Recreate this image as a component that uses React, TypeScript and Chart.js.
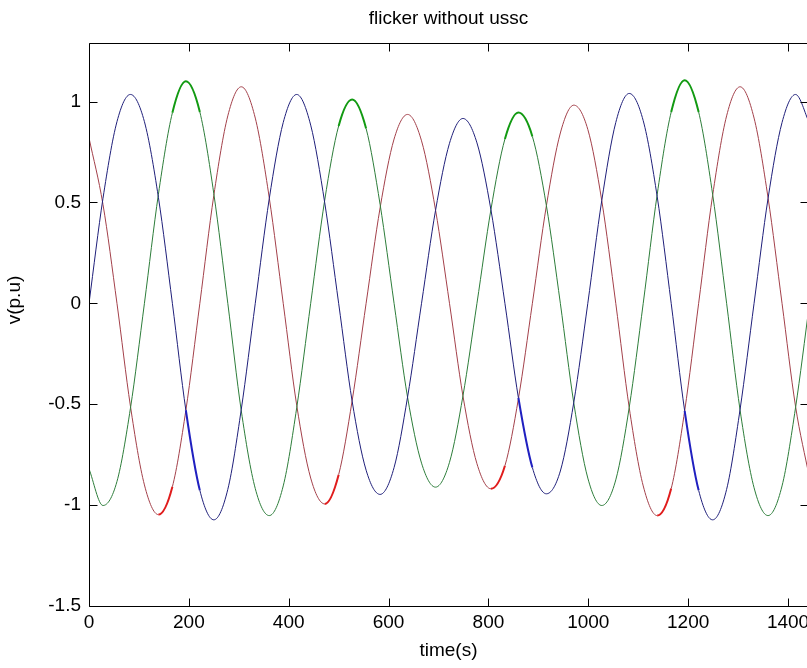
import React, { useEffect, useRef } from "react";
import { Chart, registerables } from "chart.js";

Chart.register(...registerables);

// sample times (s)
const TIME = [0, 28, 56, 83, 111, 139, 167, 194, 222, 250, 278, 305, 333, 361, 389, 416, 444, 472, 500, 527, 555, 583, 611, 638, 666, 694, 722, 749, 777, 805, 833, 860, 888, 916, 944, 971, 999, 1027, 1055, 1082, 1110, 1138, 1166, 1193, 1221, 1249, 1277, 1304, 1332, 1360, 1388, 1415, 1443];

// phase voltages (p.u)
const PHASE_BLUE = [0, 0.52, 0.9, 1.035, 0.9, 0.525, 0, -0.53, -0.927, -1.073, -0.922, -0.525,
  0, 0.518, 0.896, 1.035, 0.883, 0.5, 0, -0.485, -0.827, -0.947, -0.814, -0.465,
  0, 0.46, 0.793, 0.916, 0.795, 0.463, 0, -0.468, -0.814, -0.944, -0.831, -0.49,
  0, 0.51, 0.896, 1.04, 0.905, 0.528, 0, -0.533, -0.927, -1.073, -0.922, -0.525,
  0, 0.52, 0.896, 1.035, 0.892];

const PHASE_GREEN = [-0.82, -1.002, -0.883, -0.52, 0, 0.54, 0.944, 1.1, 0.948, 0.543, 0, -0.533,
  -0.918, -1.052, -0.905, -0.518, 0, 0.51, 0.879, 1.01, 0.866, 0.49, 0, -0.465,
  -0.792, -0.911, -0.788, -0.458, 0, 0.465, 0.814, 0.945, 0.827, 0.485, 0, -0.495,
  -0.866, -1.002, -0.875, -0.515, 0, 0.54, 0.948, 1.106, 0.948, 0.54, 0, -0.53,
  -0.914, -1.052, -0.905, -0.518, 0];

const PHASE_RED = [0.82, 0.49, 0, -0.51, -0.9, -1.047, -0.909, -0.53, 0, 0.535, 0.929, 1.073,
  0.918, 0.523, 0, -0.505, -0.866, -0.994, -0.849, -0.483, 0, 0.473, 0.814, 0.936,
  0.805, 0.463, 0, -0.46, -0.795, -0.919, -0.805, -0.473, 0, 0.483, 0.844, 0.982,
  0.862, 0.508, 0, -0.518, -0.905, -1.052, -0.918, -0.533, 0, 0.535, 0.929, 1.073,
  0.918, 0.523, 0, -0.51, -0.866];

// segments (by starting sample index) where the flicker noise is visible
const NOISY_BLUE = [7, 31, 43];
const NOISY_GREEN = [6, 7, 18, 19, 30, 31, 42, 43];
const NOISY_RED = [5, 17, 29, 41];

const X_TICKS = [0, 200, 400, 600, 800, 1000, 1200, 1400];
const Y_TICKS = [-1.5, -1, -0.5, 0, 0.5, 1];

const TITLE = "flicker without ussc";
const X_TITLE = "time(s)";
const Y_TITLE = "v(p.u)";

const FONT_FAMILY = "'Liberation Sans', Arial, sans-serif";
const FONT_SIZE = 19;

const matlabPlugin = {
  id: "matlabBox",
  afterDraw(chart: any) {
    const { ctx, chartArea } = chart;
    const { left, right, top, bottom } = chartArea;
    const xs = chart.scales.x;
    const ys = chart.scales.y;
    const tl = 8;
    ctx.save();
    ctx.strokeStyle = "#000";
    ctx.lineWidth = 1;
    ctx.beginPath();
    const L = Math.round(left) + 0.5;
    const R = Math.round(right) + 0.5;
    const T = Math.round(top) + 0.5;
    const B = Math.round(bottom) + 0.5;
    ctx.moveTo(L, T);
    ctx.lineTo(R, T);
    ctx.lineTo(R, B);
    ctx.lineTo(L, B);
    ctx.closePath();
    X_TICKS.forEach((v) => {
      const px = Math.round(xs.getPixelForValue(v)) + 0.5;
      ctx.moveTo(px, B);
      ctx.lineTo(px, B - tl);
      ctx.moveTo(px, T);
      ctx.lineTo(px, T + tl);
    });
    Y_TICKS.forEach((v) => {
      const py = Math.round(ys.getPixelForValue(v)) + 0.5;
      ctx.moveTo(L, py);
      ctx.lineTo(L + tl, py);
      ctx.moveTo(R, py);
      ctx.lineTo(R - tl, py);
    });
    ctx.stroke();

    ctx.fillStyle = "#000";
    ctx.font = `${FONT_SIZE}px ${FONT_FAMILY}`;
    ctx.textAlign = "center";
    ctx.textBaseline = "middle";
    const cx = (left + right) / 2;
    ctx.fillText(TITLE, cx, 19);
    ctx.fillText(X_TITLE, cx, 651);
    ctx.translate(15, 300);
    ctx.rotate(-Math.PI / 2);
    ctx.fillText(Y_TITLE, 0, 0);
    ctx.restore();
  },
};

function series(values: number[], color: string, bright: string, noisy: number[]) {
  return {
    data: TIME.map((t, i) => ({ x: t, y: values[i] })),
    borderColor: color,
    borderWidth: 1,
    pointRadius: 0,
    fill: false,
    cubicInterpolationMode: "monotone" as const,
    segment: {
      borderColor: (c: any) => (noisy.includes(c.p0DataIndex) ? bright : undefined),
      borderWidth: (c: any) => (noisy.includes(c.p0DataIndex) ? 2 : undefined),
    },
  };
}

export default function App() {
  const ref = useRef<HTMLCanvasElement | null>(null);

  useEffect(() => {
    document.body.style.margin = "0";
    const canvas = ref.current;
    if (!canvas) return;
    const tickFont = { family: FONT_FAMILY, size: FONT_SIZE };
    const chart = new Chart(canvas, {
      type: "line",
      data: {
        datasets: [
          series(PHASE_BLUE, "#1f1f7a", "#2020c0", NOISY_BLUE),
          series(PHASE_GREEN, "#2d7d3a", "#129a12", NOISY_GREEN),
          series(PHASE_RED, "#a3404a", "#e01c1c", NOISY_RED),
        ] as any,
      },
      options: {
        animation: false,
        responsive: false,
        devicePixelRatio: 1,
        layout: { padding: { top: 43, right: 7, left: 0, bottom: 0 } },
        plugins: {
          legend: { display: false },
          tooltip: { enabled: false },
          title: { display: false },
        },
        scales: {
          x: {
            type: "linear",
            min: 0,
            max: 1440,
            afterBuildTicks: (s: any) => {
              s.ticks = X_TICKS.map((v) => ({ value: v }));
            },
            afterFit: (s: any) => {
              s.height = 62;
            },
            grid: { display: false, drawTicks: false },
            border: { display: false },
            ticks: {
              color: "#000",
              font: tickFont,
              padding: 5,
              maxRotation: 0,
              autoSkip: false,
              callback: (v: any) => String(v),
            },
          },
          y: {
            type: "linear",
            min: -1.5,
            max: 1.29,
            afterBuildTicks: (s: any) => {
              s.ticks = Y_TICKS.map((v) => ({ value: v }));
            },
            afterFit: (s: any) => {
              s.width = 89;
            },
            grid: { display: false, drawTicks: false },
            border: { display: false },
            ticks: {
              color: "#000",
              font: tickFont,
              padding: 8,
              autoSkip: false,
              callback: (v: any) => String(v),
            },
          },
        },
      },
      plugins: [matlabPlugin],
    });
    return () => chart.destroy();
  }, []);

  return (
    <div
      style={{
        position: "absolute",
        left: 0,
        top: 0,
        width: 807,
        height: 668,
        overflow: "hidden",
        background: "#fff",
      }}
    >
      <canvas ref={ref} width={815} height={668} style={{ width: 815, height: 668, display: "block" }} />
    </div>
  );
}
